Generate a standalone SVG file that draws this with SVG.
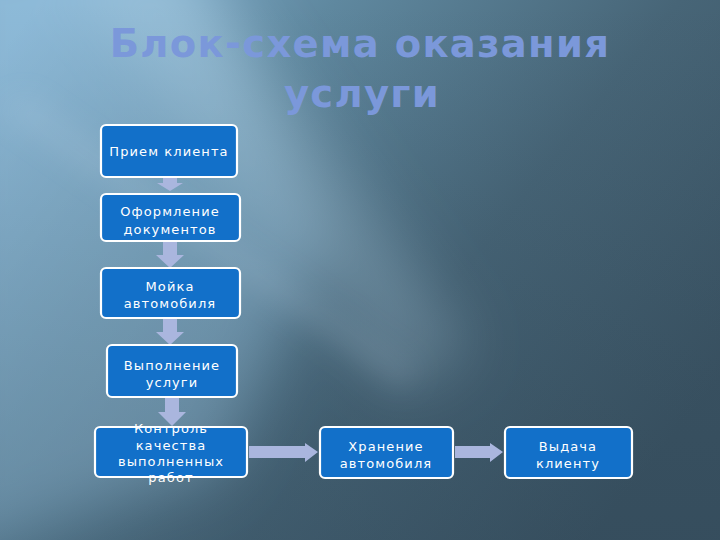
<svg xmlns="http://www.w3.org/2000/svg" width="720" height="540" viewBox="0 0 720 540">
<defs>
<linearGradient id="bg" x1="0" y1="0.1" x2="1" y2="0.7">
<stop offset="0" stop-color="#7eaccb"/>
<stop offset="0.3" stop-color="#5f889f"/>
<stop offset="0.65" stop-color="#476577"/>
<stop offset="1" stop-color="#3c5565"/>
</linearGradient>
<linearGradient id="vshade" x1="0" y1="0" x2="0" y2="1">
<stop offset="0" stop-color="#1d3040" stop-opacity="0"/>
<stop offset="1" stop-color="#1d3040" stop-opacity="0.2"/>
</linearGradient>
<filter id="blur" x="-50%" y="-50%" width="200%" height="200%"><feGaussianBlur stdDeviation="30"/></filter>
<filter id="blur2" x="-50%" y="-50%" width="200%" height="200%"><feGaussianBlur stdDeviation="14"/></filter>
</defs>
<style>
.box{fill:#1270c9;stroke:#ffffff;stroke-width:2.2}
.t{font-family:"DejaVu Sans",sans-serif;font-size:13px;fill:#ffffff;text-anchor:middle;letter-spacing:1.1px}
.title{font-family:"DejaVu Sans",sans-serif;font-weight:bold;font-size:38.5px;fill:#7b98da;text-anchor:middle;letter-spacing:1.3px}
.arr{fill:#aab6de}
</style>
<rect width="720" height="540" fill="url(#bg)"/>
<g filter="url(#blur)">
<polygon points="-60,-60 180,-60 320,240 220,470 -60,560" fill="#9fc9e6" opacity="0.45"/>
<polygon points="60,-40 200,-40 470,350 400,390" fill="#b9dbf0" opacity="0.3"/>
</g>
<g filter="url(#blur2)">
<polygon points="0,110 25,95 420,370 400,390" fill="#cfe6f5" opacity="0.15"/>
</g>
<rect width="720" height="540" fill="url(#vshade)"/>
<text class="title" x="360" y="57">Блок-схема оказания</text>
<text class="title" x="362" y="107">услуги</text>
<g id="connectors">
<polygon class="arr" points="163,178 177,178 177,183 183,183 170,191 157,183 163,183"/>
<polygon class="arr" points="163,241 177,241 177,255 184,255 170,268 156,255 163,255"/>
<polygon class="arr" points="163,319 177,319 177,332 184,332 170,345 156,332 163,332"/>
<polygon class="arr" points="165,398 179,398 179,412 186,412 172,426 158,412 165,412"/>
<polygon class="arr" points="249,446 305,446 305,443 318,452 305,462 305,458 249,458"/>
<polygon class="arr" points="455,446 490,446 490,443 503,452 490,462 490,458 455,458"/>
</g>
<g id="n1"><rect class="box" x="101" y="125" width="136" height="52" rx="5"/><text class="t" x="169" y="156">Прием клиента</text></g>
<g id="n2"><rect class="box" x="101" y="194" width="139" height="47" rx="5"/><text class="t" x="170" y="216">Оформление</text><text class="t" x="170" y="234">документов</text></g>
<g id="n3"><rect class="box" x="101" y="268" width="139" height="50" rx="5"/><text class="t" x="170" y="291">Мойка</text><text class="t" x="170" y="308">автомобиля</text></g>
<g id="n4"><rect class="box" x="107" y="345" width="130" height="52" rx="5"/><text class="t" x="172" y="370">Выполнение</text><text class="t" x="172" y="387">услуги</text></g>
<g id="n5"><rect class="box" x="95" y="427" width="152" height="50" rx="5"/><text class="t" x="171" y="433">Контроль</text><text class="t" x="171" y="450">качества</text><text class="t" x="171" y="466">выполненных</text><text class="t" x="171" y="482">работ</text></g>
<g id="n6"><rect class="box" x="320" y="427" width="133" height="51" rx="5"/><text class="t" x="386" y="451">Хранение</text><text class="t" x="386" y="468">автомобиля</text></g>
<g id="n7"><rect class="box" x="505" y="427" width="127" height="51" rx="5"/><text class="t" x="568" y="451">Выдача</text><text class="t" x="568" y="468">клиенту</text></g>
</svg>
